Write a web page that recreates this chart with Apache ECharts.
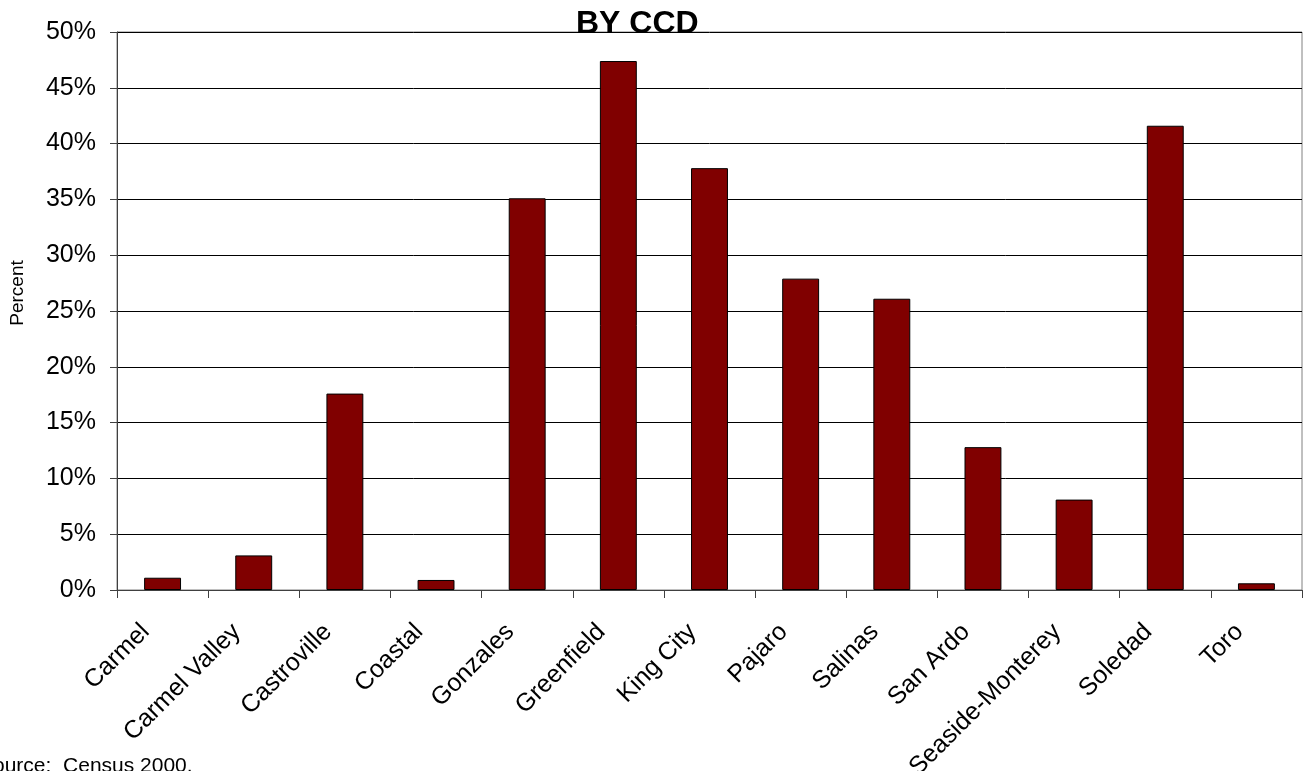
<!DOCTYPE html>
<html>
<head>
<meta charset="utf-8">
<title>BY CCD</title>
<script src="https://cdn.jsdelivr.net/npm/echarts@6/dist/echarts.min.js"></script>
<style>
  html, body { margin: 0; padding: 0; background: #ffffff; }
  #chart { width: 1303px; height: 771px; }
</style>
</head>
<body>
<div id="chart"></div>
<script>
// Census County Divisions (CCD)
const categories = [
  'Carmel', 'Carmel Valley', 'Castroville', 'Coastal', 'Gonzales', 'Greenfield',
  'King City', 'Pajaro', 'Salinas', 'San Ardo', 'Seaside-Monterey', 'Soledad', 'Toro'
];
// Percent per CCD
const percentValues = [1.1, 3.1, 17.6, 0.9, 35.1, 47.4, 37.8, 27.9, 26.1, 12.8, 8.1, 41.6, 0.6];
// Value axis ticks
const yTicks = { min: 0, max: 50, interval: 5 };

const FONT = 'Arial, "Liberation Sans", sans-serif';

const chart = echarts.init(document.getElementById('chart'), null, { renderer: 'canvas' });

chart.setOption({
  animation: false,
  backgroundColor: '#ffffff',
  title: {
    text: 'BY CCD',
    left: 571,
    top: 3,
    textStyle: { fontFamily: FONT, fontSize: 32, fontWeight: 'bold', color: '#000000' }
  },
  grid: {
    left: 117, right: 1, top: 32, bottom: 181,
    show: true, borderColor: '#808080', borderWidth: 1,
    containLabel: false,
    outerBoundsMode: 'none'
  },
  xAxis: {
    type: 'category',
    data: categories,
    boundaryGap: true,
    axisLine: { show: true, lineStyle: { color: '#404040', width: 1 } },
    axisTick: { show: true, length: 8, inside: false, alignWithLabel: false, lineStyle: { color: '#404040' } },
    axisLabel: {
      interval: 0,
      rotate: 45,
      margin: 21,
      padding: [0, 24, 0, 0],
      fontFamily: FONT,
      fontSize: 25,
      color: '#000000'
    },
    splitLine: { show: false }
  },
  yAxis: {
    type: 'value',
    min: yTicks.min,
    max: yTicks.max,
    interval: yTicks.interval,
    axisLine: { show: true, lineStyle: { color: '#404040', width: 1 } },
    axisTick: { show: true, length: 7, inside: false, lineStyle: { color: '#404040' } },
    axisLabel: {
      margin: 21,
      fontFamily: FONT,
      fontSize: 25,
      color: '#000000',
      formatter: '{value}%'
    },
    splitLine: { show: true, lineStyle: { color: '#000000', width: 1 } }
  },
  series: [{
    type: 'bar',
    data: percentValues,
    barWidth: '40.5%',
    itemStyle: { color: '#800000', borderColor: '#000000', borderWidth: 1 }
  }],
  graphic: [{
    type: 'text',
    x: 18,
    y: 293,
    rotation: Math.PI / 2,
    style: {
      text: 'Percent', font: '19px ' + FONT, fill: '#000000',
      align: 'center', verticalAlign: 'middle'
    }
  }, {
    type: 'text',
    left: -21,
    top: 756,
    style: { text: 'Source:  Census 2000.', font: '21px ' + FONT, fill: '#000000' }
  }]
});
</script>
</body>
</html>
